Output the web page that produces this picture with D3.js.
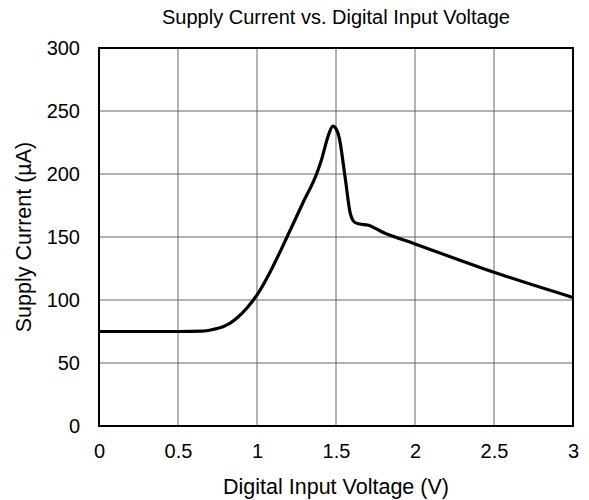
<!DOCTYPE html>
<html>
<head>
<meta charset="utf-8">
<script src="https://cdn.jsdelivr.net/npm/d3@7"></script>
<style>
  body { margin: 0; background: #fff; }
  text { font-family: "Liberation Sans", Arial, sans-serif; fill: #000; }
</style>
</head>
<body>
<script>
var voltage = [0, 0.5, 0.65, 0.72, 0.785, 0.83, 0.88, 0.935, 1.0, 1.08, 1.19, 1.29, 1.38, 1.41, 1.45, 1.48, 1.5, 1.52, 1.557, 1.59, 1.62, 1.65, 1.7, 1.8, 2.0, 2.5, 3.0];
var current = [75, 75, 75.3, 76.6, 78.8, 81.6, 86.5, 93.5, 104, 121.5, 150, 177, 201, 212, 230, 238, 236, 229, 198, 169, 161.5, 160.3, 159.5, 153.5, 144.5, 122, 102];
var xTicks = [0, 0.5, 1, 1.5, 2, 2.5, 3];
var yTicks = [0, 50, 100, 150, 200, 250, 300];

var width = 589, height = 500;
var margin = { top: 48, right: 16, bottom: 74, left: 99 };
var w = width - margin.left - margin.right;
var h = height - margin.top - margin.bottom;
var fontSize = '20px';
var titleSize = '21.5px';

var svg = d3.select('body').append('svg')
    .attr('width', width)
    .attr('height', height);

var g = svg.append('g')
    .attr('transform', 'translate(' + margin.left + ',' + margin.top + ')');

var x = d3.scaleLinear().domain([0, 3]).range([0, w]);
var y = d3.scaleLinear().domain([0, 300]).range([h, 0]);

// grid
g.append('g').selectAll('line').data(xTicks).enter().append('line')
    .attr('x1', function(d) { return x(d); })
    .attr('x2', function(d) { return x(d); })
    .attr('y1', 0).attr('y2', h)
    .attr('stroke', '#666').attr('stroke-width', 1);
g.append('g').selectAll('line').data(yTicks).enter().append('line')
    .attr('y1', function(d) { return y(d); })
    .attr('y2', function(d) { return y(d); })
    .attr('x1', 0).attr('x2', w)
    .attr('stroke', '#666').attr('stroke-width', 1);

// axes (labels only)
var xAxis = g.append('g')
    .attr('transform', 'translate(0,' + h + ')')
    .call(d3.axisBottom(x).tickValues(xTicks).tickSize(0).tickPadding(18).tickFormat(d3.format('')));
var yAxis = g.append('g')
    .call(d3.axisLeft(y).tickValues(yTicks).tickSize(0).tickPadding(19));
[xAxis, yAxis].forEach(function(a) {
    a.select('.domain').remove();
    a.selectAll('text').style('font-size', fontSize).style('font-family', '"Liberation Sans", Arial, sans-serif');
});

// frame
g.append('rect')
    .attr('width', w).attr('height', h)
    .attr('fill', 'none').attr('stroke', '#000').attr('stroke-width', 2);

// curve
var line = d3.line()
    .x(function(d) { return x(d[0]); })
    .y(function(d) { return y(d[1]); })
    .curve(d3.curveMonotoneX);

g.append('path')
    .datum(d3.zip(voltage, current))
    .attr('d', line)
    .attr('fill', 'none')
    .attr('stroke', '#000')
    .attr('stroke-width', 3.2)
    .attr('stroke-linejoin', 'round');

// titles
svg.append('text')
    .attr('x', margin.left + w / 2).attr('y', 24)
    .attr('text-anchor', 'middle')
    .style('font-size', fontSize)
    .text('Supply Current vs. Digital Input Voltage');

svg.append('text')
    .attr('x', margin.left + w / 2).attr('y', 494)
    .attr('text-anchor', 'middle')
    .style('font-size', titleSize)
    .text('Digital Input Voltage (V)');

svg.append('text')
    .attr('transform', 'translate(31,' + (margin.top + h / 2) + ') rotate(-90)')
    .attr('text-anchor', 'middle')
    .style('font-size', titleSize)
    .text('Supply Current (µA)');
</script>
</body>
</html>
